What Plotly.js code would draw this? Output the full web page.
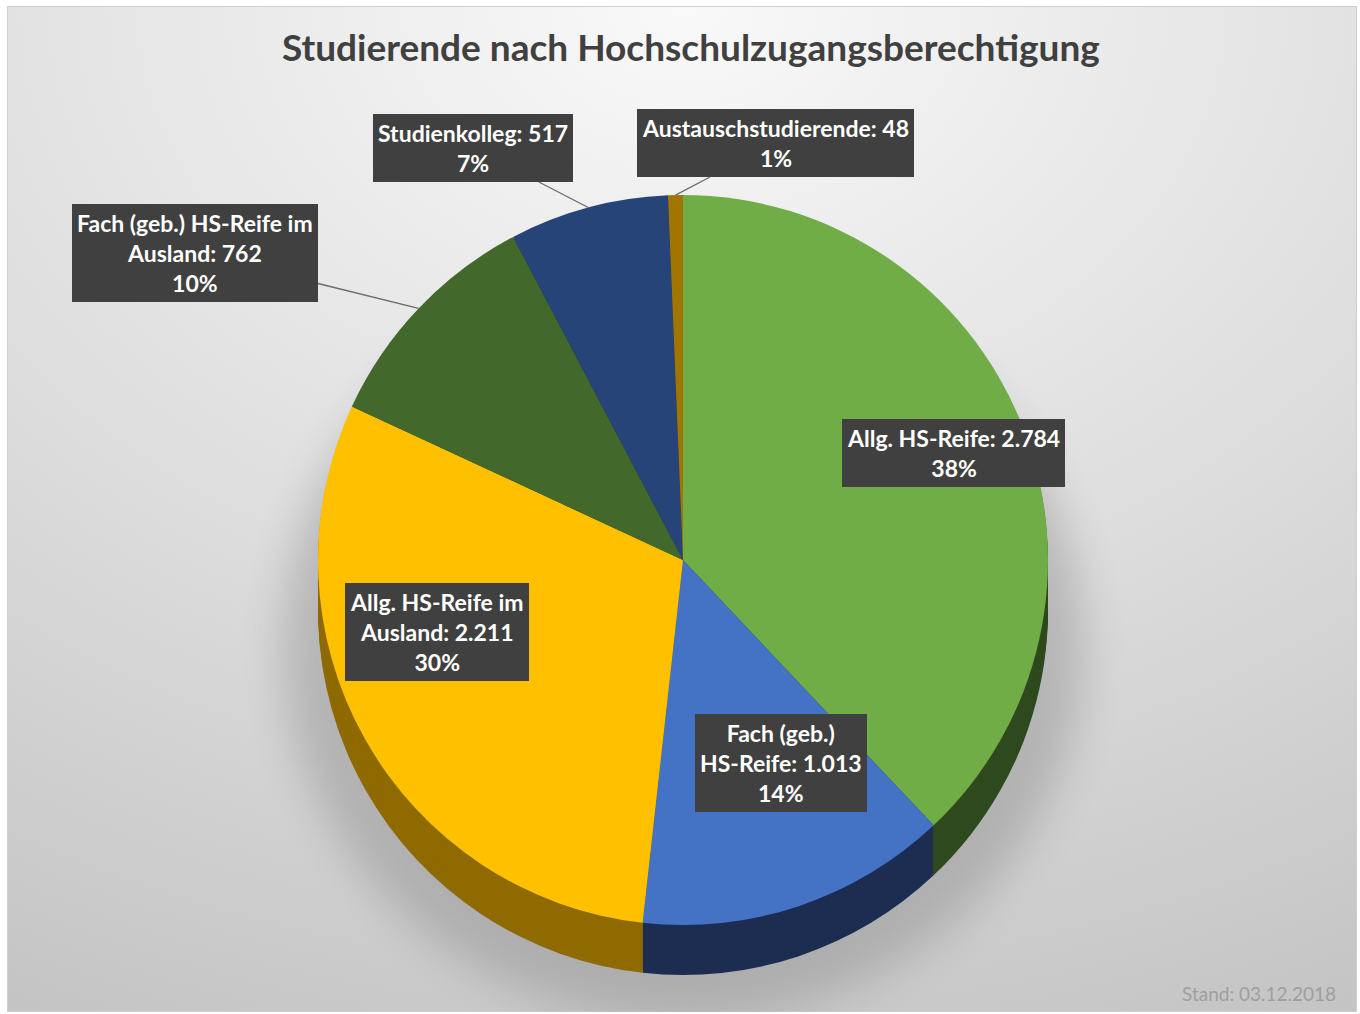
<!DOCTYPE html>
<html>
<head>
<meta charset="utf-8">
<script src="https://cdn.plot.ly/plotly-3.0.1.min.js"></script>
<style>html,body{margin:0;padding:0;background:#fff;}#chart{width:1360px;height:1014px;}</style>
</head>
<body>
<div id="chart"></div>
<script>
// ---- data ----
const categories = ['Allg. HS-Reife', 'Fach (geb.) HS-Reife', 'Allg. HS-Reife im Ausland',
  'Fach (geb.) HS-Reife im Ausland', 'Studienkolleg', 'Austauschstudierende'];
const values = [2784, 1013, 2211, 762, 517, 48];
const chartTitle = 'Studierende nach Hochschulzugangsberechtigung';
const footNote = 'Stand: 03.12.2018';

// ---- styles ----
const topColors  = ['#70AD47', '#4472C4', '#FFC000', '#43682B', '#264478', '#A07600'];
const sideColors = ['#2E4A1E', '#1D2D52', '#8F6A00', '#2A4219', '#172A4A', '#5E4700'];
const labelBox   = [[954, 453], [781, 763], [437, 632], [195, 253], [473, 148], [775, 143]]; // px centres
const labelWrap  = [99, 15, 17, 23, 99, 99];
const hasLeader  = [false, false, false, true, true, true];

const W = 1360, H = 1014;
const cx = 683, cy = 560, R = 365, depth = 50, layers = 18;
const FONT = 'Lato, "Open Sans", sans-serif';

function fmtDE(n) { return String(n).replace(/\B(?=(\d{3})+(?!\d))/g, '.'); }
function wrap(text, maxc) {
  const words = text.split(' '); const lines = []; let cur = '';
  words.forEach(w => { const t = cur ? cur + ' ' + w : w;
    if (t.length > maxc && cur) { lines.push(cur); cur = w; } else cur = t; });
  lines.push(cur); return lines.join('<br>');
}
function pieDomain(offY) {
  return { x: [(cx - R) / W, (cx + R) / W], y: [(H - (cy + offY) - R) / H, (H - (cy + offY) + R) / H] };
}

const traces = [];
for (let k = layers; k >= 1; k--) {
  traces.push({
    type: 'pie', values: values, labels: categories, sort: false, direction: 'clockwise', rotation: 0,
    domain: pieDomain(depth * k / layers), textinfo: 'none', hoverinfo: 'skip', showlegend: false,
    marker: { colors: sideColors, line: { width: 0 } }
  });
}
traces.push({
  type: 'pie', values: values, labels: categories, sort: false, direction: 'clockwise', rotation: 0,
  domain: pieDomain(0), textinfo: 'none', showlegend: false,
  marker: { colors: topColors, line: { width: 0 } }
});

const total = values.reduce((a, b) => a + b, 0);
const annotations = [];
let cum = 0;
values.forEach((v, i) => {
  const mid = (cum + v / 2) / total; cum += v;
  const ang = mid * 2 * Math.PI;
  const pct = Math.round(v / total * 100) + '%';
  const txt = wrap(categories[i] + ': ' + fmtDE(v), labelWrap[i]) + '<br>' + pct;
  const bx = labelBox[i][0], by = labelBox[i][1];
  const base = {
    text: txt, xref: 'paper', yref: 'paper', bgcolor: '#404040', borderpad: 5, borderwidth: 0,
    font: { family: FONT, size: 23, color: '#ffffff', weight: 'bold' }, align: 'center'
  };
  if (hasLeader[i]) {
    const px = cx + Math.sin(ang) * R, py = cy - Math.cos(ang) * R;
    annotations.push(Object.assign(base, {
      x: px / W, y: 1 - py / H, ax: bx - px, ay: by - py, showarrow: true,
      arrowhead: 0, arrowwidth: 1.3, arrowcolor: '#6b6b6b'
    }));
  } else {
    annotations.push(Object.assign(base, { x: bx / W, y: 1 - by / H, showarrow: false, xanchor: 'center', yanchor: 'middle' }));
  }
});
annotations.push({
  text: footNote, xref: 'paper', yref: 'paper', x: 1338 / W, y: 1 - 993 / H, xanchor: 'right', yanchor: 'middle',
  showarrow: false, font: { family: FONT, size: 19, color: '#9f9f9f' }
});

const bgSvg = "<svg xmlns='http://www.w3.org/2000/svg' width='1350' height='1006' viewBox='0 0 1350 1006'>" +
  "<defs><radialGradient id='g' cx='50%' cy='0%' r='115%' fx='50%' fy='0%'>" +
  "<stop offset='0' stop-color='#f9f9f9'/><stop offset='0.55' stop-color='#dcdcdc'/><stop offset='1' stop-color='#c2c2c2'/></radialGradient>" +
  "<filter id='b' x='-50%' y='-50%' width='200%' height='200%'><feGaussianBlur stdDeviation='22'/></filter></defs>" +
  "<rect x='0.5' y='0.5' width='1349' height='1005' fill='url(#g)' stroke='#cfcfcf'/>" +
  "<ellipse cx='676' cy='640' rx='400' ry='375' fill='#8a8a8a' opacity='0.45' filter='url(#b)'/></svg>";

const layout = {
  width: W, height: H, margin: { l: 0, r: 0, t: 0, b: 0 }, paper_bgcolor: '#ffffff',
  title: { text: chartTitle, x: 0.508, xanchor: 'center', y: 1 - 48 / H, yanchor: 'middle',
    font: { family: FONT, size: 37, color: '#404040', weight: 'bold' } },
  images: [{ source: 'data:image/svg+xml;charset=utf-8,' + encodeURIComponent(bgSvg), xref: 'paper', yref: 'paper',
    x: 7 / W, y: 1 - 6 / H, sizex: 1350 / W, sizey: 1006 / H, sizing: 'stretch', xanchor: 'left', yanchor: 'top', layer: 'below' }],
  annotations: annotations, showlegend: false
};
Plotly.newPlot('chart', traces, layout, { displayModeBar: false, staticPlot: true });
</script>
</body>
</html>
